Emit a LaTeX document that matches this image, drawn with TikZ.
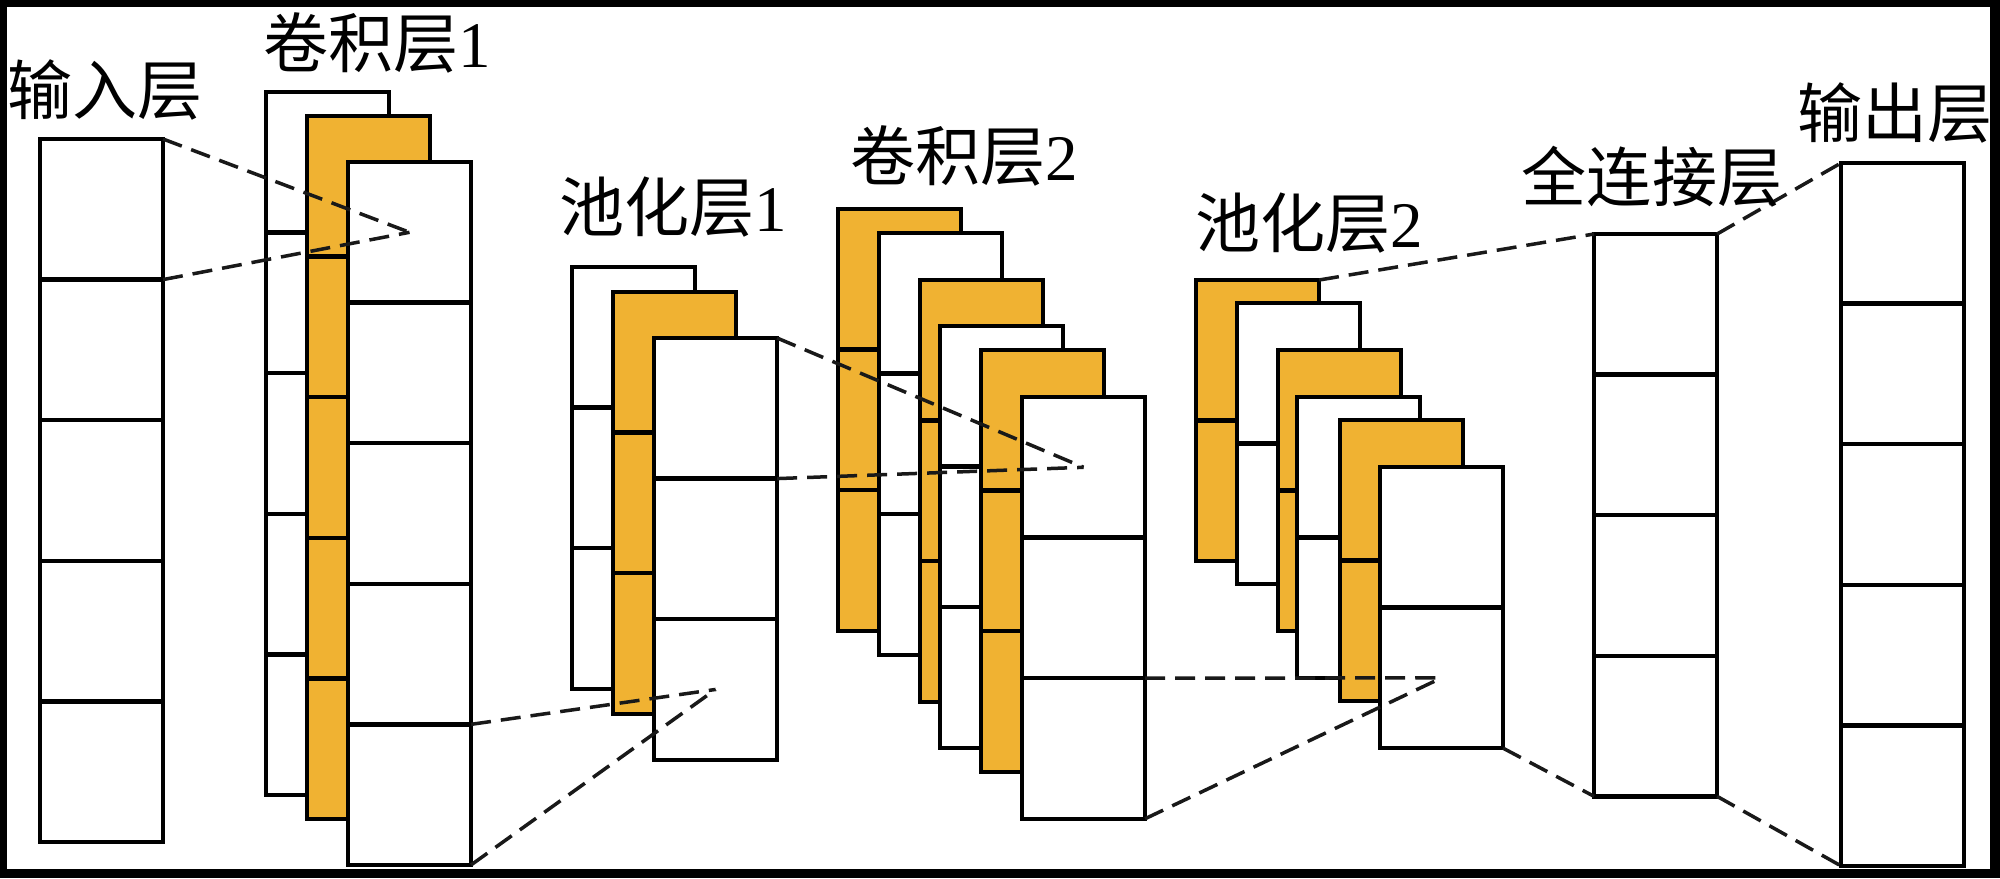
\documentclass[tikz,border=0pt]{standalone}
\usepackage{fontspec}
\setmainfont{Liberation Serif}
\newfontfamily\cjk{Noto Sans CJK SC}
\definecolor{mapor}{RGB}{240,178,50}
\tikzset{
 mapbox/.style={draw=black, line width=0.045cm, minimum width=1.23cm, inner sep=0pt, outer sep=0pt, anchor=north west},
 mapline/.style={draw=black, line width=0.045cm},
 link/.style={draw=black!90, line width=0.035cm, dash pattern=on 0.2cm off 0.1cm},
 lbl/.style={font=\fontsize{18.5}{20}\selectfont, inner sep=0pt, anchor=center}
}
\newcommand{\fmap}[5]{%
 \node[mapbox, fill=#5, minimum height=#4*1.405cm] (#1) at (#2,#3) {};
 \pgfmathtruncatemacro\fmapn{#4-1}%
 \foreach \k in {1,...,\fmapn}{\draw[mapline] ([yshift=-\k*1.405cm]#1.north west) -- ([yshift=-\k*1.405cm]#1.north east) coordinate (#1-r\k);}%
 \foreach \k in {1,...,#4}{\coordinate (#1-c\k) at ([yshift=-\k*1.405cm+0.7025cm]#1.north);}%
}
\begin{document}
\begin{tikzpicture}[x=0.01cm,y=-0.01cm]
\fill[black] (0,0) rectangle (2000,878);
\fill[white] (7,7) rectangle (1990,869);
\useasboundingbox (0,0) rectangle (2000,878);
% input
\fmap{inp}{40}{139}{5}{white}
% conv 1
\fmap{c1a}{266}{92}{5}{white}
\fmap{c1b}{307}{116}{5}{mapor}
\fmap{c1c}{348}{162}{5}{white}
% pool 1
\fmap{p1a}{572}{267}{3}{white}
\fmap{p1b}{613}{292}{3}{mapor}
\fmap{p1c}{654}{338}{3}{white}
% conv 2
\fmap{c2a}{838}{209}{3}{mapor}
\fmap{c2b}{879}{233}{3}{white}
\fmap{c2c}{920}{280}{3}{mapor}
\fmap{c2d}{940}{326}{3}{white}
\fmap{c2e}{981}{350}{3}{mapor}
\fmap{c2f}{1022}{397}{3}{white}
% pool 2
\fmap{p2a}{1196}{280}{2}{mapor}
\fmap{p2b}{1237}{303}{2}{white}
\fmap{p2c}{1278}{350}{2}{mapor}
\fmap{p2d}{1297}{397}{2}{white}
\fmap{p2e}{1340}{420}{2}{mapor}
\fmap{p2f}{1380}{467}{2}{white}
% fully connected and output
\fmap{fc}{1594}{234}{4}{white}
\fmap{out}{1841}{163}{5}{white}
% connectors
\draw[link] (inp.north east) -- (c1c-c1);
\draw[link] (inp-r1) -- (c1c-c1);
\draw[link] (c1c-r4) -- (p1c-c3);
\draw[link] (c1c.south east) -- (p1c-c3);
\draw[link] (p1c.north east) -- (c2f-c1);
\draw[link] (p1c-r1) -- (c2f-c1);
\draw[link] (c2f-r2) -- (p2f-c2);
\draw[link] (c2f.south east) -- (p2f-c2);
\draw[link] (p2a.north east) -- (fc.north west);
\draw[link] (p2f.south east) -- (fc.south west);
\draw[link] (fc.north east) -- (out.north west);
\draw[link] (fc.south east) -- (out.south west);
% labels
\node[lbl] (tin) at (105,90) {\cjk 输入层};
\node[lbl] (tc1) at (377,43) {{\cjk 卷积层}1};
\node[lbl] (tp1) at (673,207) {{\cjk 池化层}1};
\node[lbl] (tc2) at (964,156) {{\cjk 卷积层}2};
\node[lbl] (tp2) at (1309,223) {{\cjk 池化层}2};
\node[lbl] (tfc) at (1652,177) {\cjk 全连接层};
\node[lbl] (tout) at (1895,113) {\cjk 输出层};
\end{tikzpicture}
\end{document}
